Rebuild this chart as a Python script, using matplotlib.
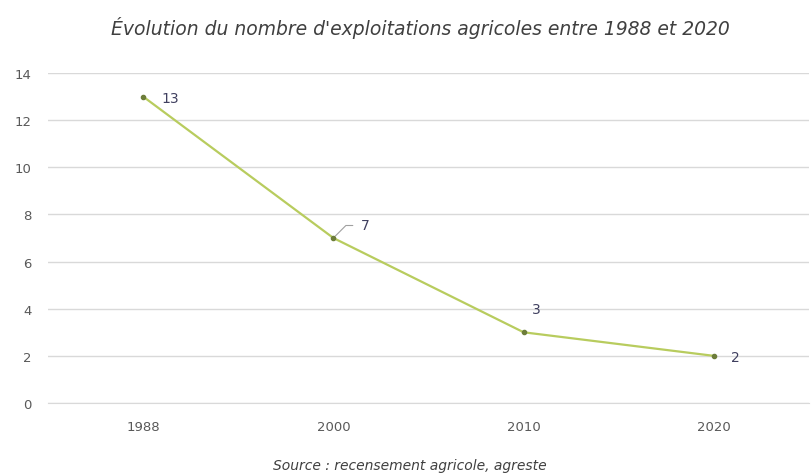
import matplotlib
matplotlib.use("Agg")
import matplotlib.pyplot as plt

years = ["1988", "2000", "2010", "2020"]
values = [13, 7, 3, 2]
yticks = [0, 2, 4, 6, 8, 10, 12, 14]

fig = plt.figure(figsize=(8.12, 4.77), dpi=100)
ax = fig.add_axes([48/812, 1-404/477, (809-48)/812, (404-74)/477])

x = list(range(len(years)))
ax.plot(x, values, color="#b8cc5e", lw=1.6, zorder=3)
ax.plot(x, values, 'o', color="#6d7d3a", ms=3, zorder=4)

ax.set_xlim(-0.5, 3.5)
ax.set_ylim(0, 14)
ax.set_yticks(yticks)
ax.set_xticks(x)
ax.set_xticklabels(years)
ax.grid(axis='y', color="#d9d9d9", lw=1)
ax.set_axisbelow(True)
for s in ax.spines.values():
    s.set_visible(False)
ax.spines['bottom'].set_visible(True)
ax.spines['bottom'].set_color("#d9d9d9")
ax.tick_params(length=0, colors="#595959", labelsize=9.5)
ax.tick_params(axis='x', pad=12)
ax.tick_params(axis='y', pad=12)

lab_col = "#3f3f5f"
ax.annotate(str(values[0]), (0, values[0]), xytext=(13, -1), textcoords='offset points',
            ha='left', va='center', fontsize=10, color=lab_col)
ax.annotate(str(values[1]), (1, values[1]), xytext=(20, 9), textcoords='offset points',
            ha='left', va='center', fontsize=10, color=lab_col,
            arrowprops=dict(arrowstyle='-', color="#a0a0a0", lw=0.8,
                            connectionstyle="angle,angleA=0,angleB=45", shrinkA=4, shrinkB=2))
ax.annotate(str(values[2]), (2, values[2]), xytext=(6, 17), textcoords='offset points',
            ha='left', va='center', fontsize=10, color=lab_col)
ax.annotate(str(values[3]), (3, values[3]), xytext=(12, -1), textcoords='offset points',
            ha='left', va='center', fontsize=10, color=lab_col)

fig.text(420/812, 1-28/477, "Évolution du nombre d'exploitations agricoles entre 1988 et 2020",
         ha='center', va='center', fontsize=13.5, style='italic', color="#404040")
fig.text(410/812, 1-466/477, "Source : recensement agricole, agreste",
         ha='center', va='center', fontsize=10, style='italic', color="#404040")

fig.savefig("out.png", dpi=100)
